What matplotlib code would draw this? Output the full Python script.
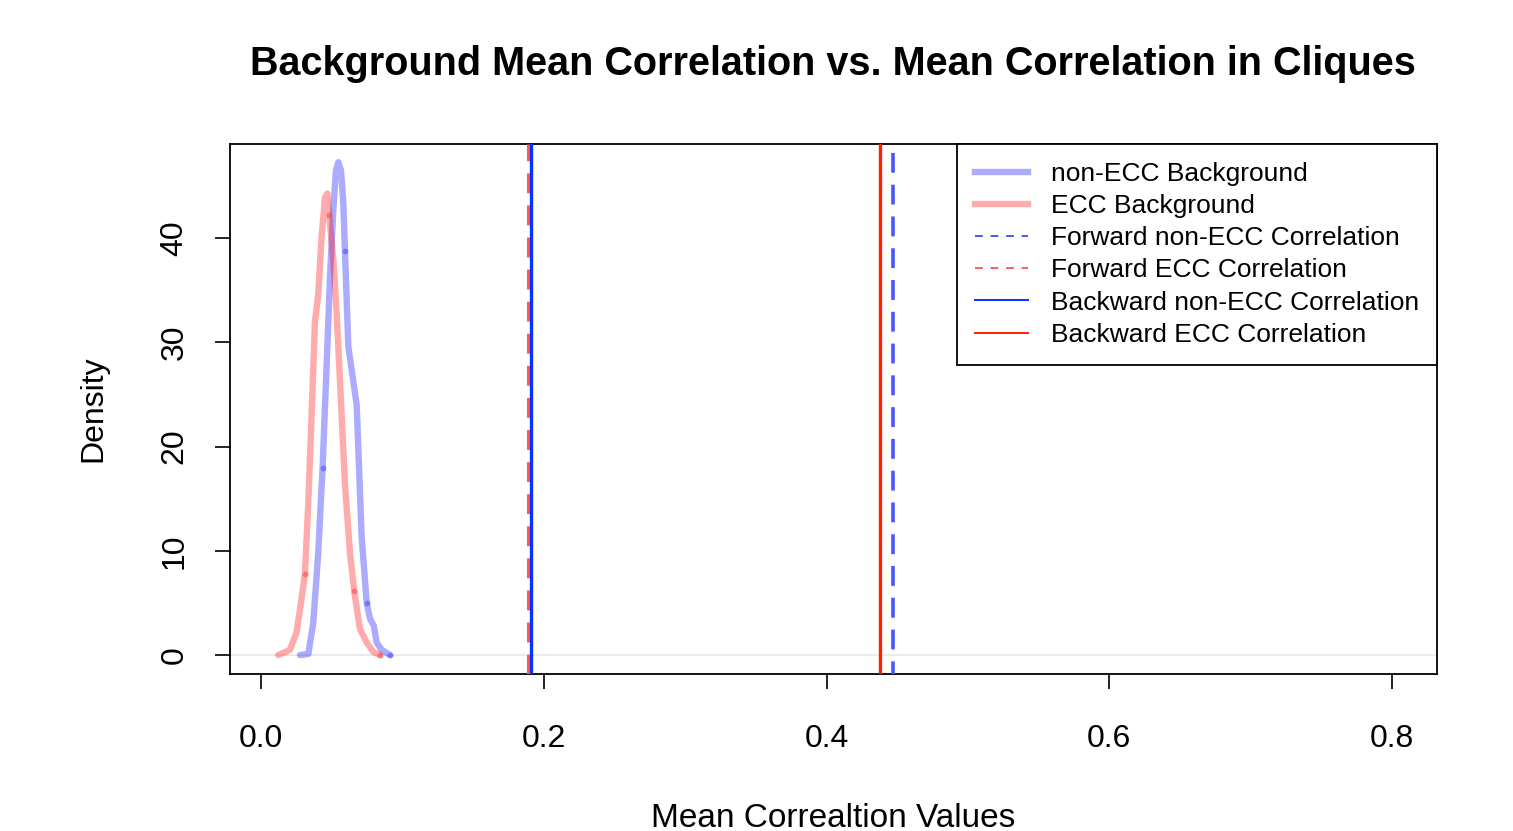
import numpy as np
import matplotlib
matplotlib.use("Agg")
import matplotlib.pyplot as plt
from matplotlib.lines import Line2D

plt.rcParams['font.family'] = ['Liberation Sans', 'DejaVu Sans']

# --- data ---
# non-ECC background density
nonecc_x = [0.0276, 0.0335, 0.0370, 0.0405, 0.0436, 0.0465, 0.0488, 0.0512, 0.0530,
            0.0547, 0.0566, 0.0582, 0.0594, 0.0618, 0.0653, 0.0677, 0.0689, 0.0712,
            0.0748, 0.0771, 0.0799, 0.0818, 0.0854, 0.0912]
nonecc_y = [0.0, 0.1, 3.1, 9.8, 18.0, 28.0, 36.2, 42.8, 46.5,
            47.3, 46.5, 43.5, 38.8, 29.6, 26.3, 24.0, 19.7, 11.4,
            4.95, 3.5, 2.8, 1.2, 0.5, 0.0]
# ECC background density
ecc_x = [0.0123, 0.0205, 0.0252, 0.0288, 0.0311, 0.0335, 0.0358, 0.0382, 0.0405,
         0.0429, 0.0453, 0.0469, 0.0483, 0.0512, 0.0535, 0.0559, 0.0594, 0.0630,
         0.0660, 0.0700, 0.0748, 0.0795, 0.0842]
ecc_y = [0.0, 0.5, 2.2, 5.5, 7.8, 14.7, 23.0, 32.0, 34.6,
         40.2, 43.9, 44.3, 42.2, 37.9, 32.9, 26.3, 16.4, 9.75,
         6.1, 2.5, 1.2, 0.3, 0.0]
# darker joints visible on the curves
nonecc_dots_x = [0.0436, 0.0594, 0.0748, 0.0912]
nonecc_dots_y = [18.0, 38.8, 4.95, 0.0]
ecc_dots_x = [0.0311, 0.0483, 0.0660, 0.0842]
ecc_dots_y = [7.8, 42.2, 6.1, 0.0]

# clique correlations
fwd_nonecc = 0.447
fwd_ecc = 0.189
bwd_nonecc = 0.191
bwd_ecc = 0.438

labels = ['non-ECC Background', 'ECC Background', 'Forward non-ECC Correlation',
          'Forward ECC Correlation', 'Backward non-ECC Correlation', 'Backward ECC Correlation']
xticks = [0.0, 0.2, 0.4, 0.6, 0.8]
yticks = [0, 10, 20, 30, 40]

blue_bg = (0.0, 0.0, 1.0, 0.33)
red_bg = (1.0, 0.0, 0.0, 0.33)

fig = plt.figure(figsize=(15.13, 8.31), dpi=100)
ax = fig.add_axes([230 / 1513, 1 - 674 / 831, (1437 - 230) / 1513, (674 - 144) / 831])

ax.axhline(0, color='#e8e8e8', lw=1.2, zorder=1)
ax.plot(nonecc_x, nonecc_y, color=blue_bg, lw=4.6, solid_capstyle='round', solid_joinstyle='round', zorder=2)
ax.plot(ecc_x, ecc_y, color=red_bg, lw=4.6, solid_capstyle='round', solid_joinstyle='round', zorder=2)
ax.plot(nonecc_dots_x, nonecc_dots_y, 'o', ms=4.2, mec='none', color=(0.3, 0.35, 1.0, 0.6), zorder=3)
ax.plot(ecc_dots_x, ecc_dots_y, 'o', ms=4.2, mec='none', color=(1.0, 0.3, 0.3, 0.6), zorder=3)

ax.axvline(fwd_ecc, color='#ff5a5a', lw=2.2, ls=(0, (6.5, 4)), zorder=4)
ax.axvline(bwd_nonecc, color='#0a32ff', lw=2.4, zorder=5)
ax.axvline(bwd_ecc, color='#ff1e00', lw=2.4, zorder=5)
ax.axvline(fwd_nonecc, color='#4a55ff', lw=2.6, ls=(2, (5.5, 3.3)), zorder=4)

ax.set_xlim(-0.0219, 0.8318)
ax.set_ylim(-1.82, 49.05)

ax.set_xticks(xticks)
ax.set_xticklabels(['0.0', '0.2', '0.4', '0.6', '0.8'], fontsize=23)
ax.set_yticks(yticks)
ax.set_yticklabels([str(t) for t in yticks], fontsize=23, rotation=90, va='center')
ax.tick_params(axis='both', direction='out', length=11, width=1.2, color='black')
ax.tick_params(axis='x', pad=25)
ax.tick_params(axis='y', pad=18)
for s in ax.spines.values():
    s.set_linewidth(1.3)

ax.set_xlabel('Mean Correaltion Values', fontsize=24, labelpad=35)
ax.set_ylabel('Density', fontsize=23, labelpad=37)
fig.text(833 / 1513, 1 - 64 / 831, 'Background Mean Correlation vs. Mean Correlation in Cliques',
         fontsize=28.5, fontweight='bold', ha='center', va='center')

handles = [
    Line2D([], [], color=blue_bg, lw=4.6),
    Line2D([], [], color=red_bg, lw=4.6),
    Line2D([], [], color='#4a55ff', lw=1.4, ls=(0, (4, 4))),
    Line2D([], [], color='#ff5a5a', lw=1.4, ls=(0, (4, 4))),
    Line2D([], [], color='#0a32ff', lw=1.4),
    Line2D([], [], color='#ff1e00', lw=1.4),
]
leg = ax.legend(handles, labels, loc='upper right', fontsize=19, frameon=True, fancybox=False,
                edgecolor='black', borderaxespad=0, handlelength=2.0, handletextpad=0.87,
                labelspacing=0.31, borderpad=0.68, framealpha=1)
leg.get_frame().set_linewidth(1.3)

fig.savefig('out.png', dpi=100)
